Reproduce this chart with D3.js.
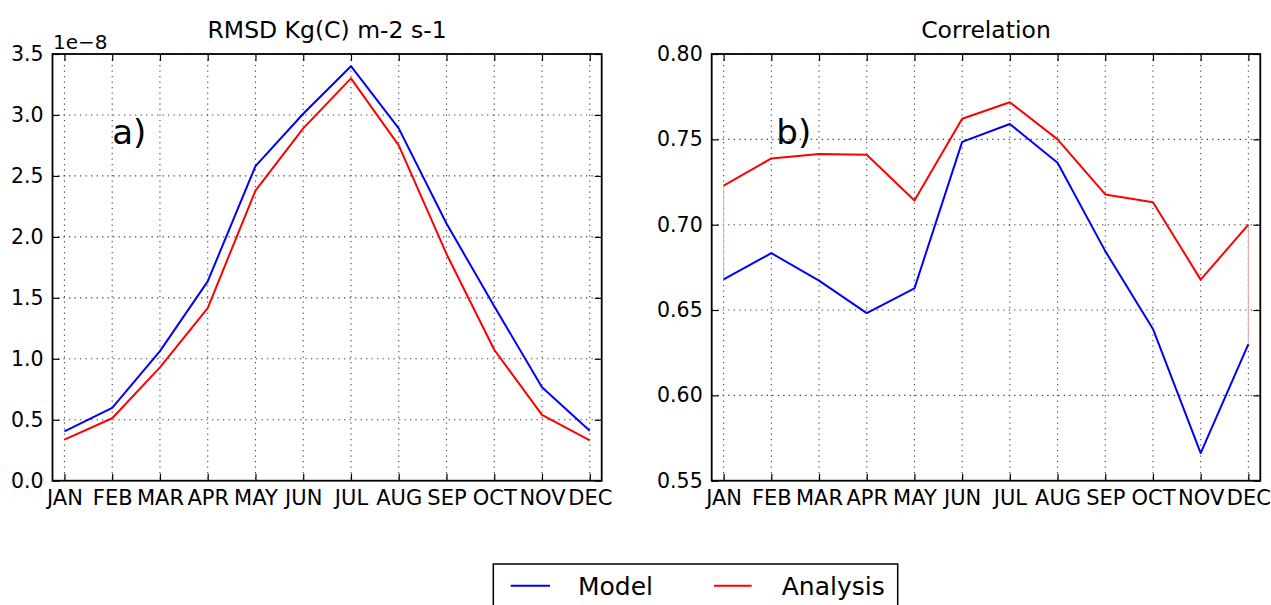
<!DOCTYPE html>
<html>
<head>
<meta charset="utf-8">
<script src="https://cdn.jsdelivr.net/npm/d3@7/dist/d3.min.js"></script>
<style>
  html, body { margin: 0; padding: 0; background: #fff; }
  svg { display: block; font-family: "DejaVu Sans", sans-serif; }
  .tick text { font-family: "DejaVu Sans", sans-serif; fill: #000; }
</style>
</head>
<body>
<svg id="chart" width="1271" height="605"></svg>
<script>
// ---- data ----
const months = ["JAN","FEB","MAR","APR","MAY","JUN","JUL","AUG","SEP","OCT","NOV","DEC"];
// RMSD, in units of 1e-8 Kg(C) m-2 s-1
const rmsdModel    = [0.405, 0.597, 1.063, 1.635, 2.58, 3.01, 3.40, 2.89, 2.11, 1.43, 0.767, 0.41];
const rmsdAnalysis = [0.337, 0.512, 0.93, 1.416, 2.38, 2.89, 3.30, 2.75, 1.86, 1.074, 0.54, 0.33];
// Correlation
const corrModel    = [0.668, 0.6833, 0.6672, 0.6482, 0.6627, 0.7485, 0.759, 0.7363, 0.6845, 0.6389, 0.5662, 0.630];
const corrAnalysis = [0.7229, 0.7388, 0.7414, 0.741, 0.7142, 0.7621, 0.7717, 0.750, 0.7177, 0.7132, 0.6678, 0.700];
const rmsdTicks = [0.0, 0.5, 1.0, 1.5, 2.0, 2.5, 3.0, 3.5];
const corrTicks = [0.55, 0.60, 0.65, 0.70, 0.75, 0.80];
const seriesNames = ["Model", "Analysis"];
const seriesColors = ["#0000ff", "#ff0000"];

const svg = d3.select("#chart");
svg.append("rect").attr("width", 1271).attr("height", 605).attr("fill", "#fff");

function panel(opts) {
  const x = d3.scaleLinear().domain([-0.25, 11.25]).range([opts.left, opts.right]);
  const y = d3.scaleLinear().domain(opts.yDomain).range([opts.bottom, opts.top]);
  const g = svg.append("g");

  // grid
  const grid = g.append("g").attr("stroke", "#444").attr("stroke-width", 1.1)
    .attr("stroke-dasharray", "1.3,4.2").attr("fill", "none");
  months.forEach((m, i) => {
    grid.append("line").attr("x1", x(i)).attr("x2", x(i)).attr("y1", opts.top).attr("y2", opts.bottom);
  });
  opts.ticks.forEach(t => {
    grid.append("line").attr("x1", opts.left).attr("x2", opts.right).attr("y1", y(t)).attr("y2", y(t));
  });

  // axes (inward ticks on all sides)
  const xb = d3.axisBottom(x).tickValues(d3.range(12)).tickFormat(i => months[i]).tickSize(-7).tickPadding(8);
  const xt = d3.axisTop(x).tickValues(d3.range(12)).tickFormat("").tickSize(-7);
  const yl = d3.axisLeft(y).tickValues(opts.ticks).tickFormat(opts.fmt).tickSize(-7).tickPadding(9);
  const yr = d3.axisRight(y).tickValues(opts.ticks).tickFormat("").tickSize(-7);

  const ax1 = g.append("g").attr("transform", `translate(0,${opts.bottom})`).call(xb);
  ax1.selectAll("text").attr("font-size", 21).attr("dy", "0.8em");
  g.append("g").attr("transform", `translate(0,${opts.top})`).call(xt);
  const ay = g.append("g").attr("transform", `translate(${opts.left},0)`).call(yl);
  ay.selectAll("text").attr("font-size", 20.5);
  g.append("g").attr("transform", `translate(${opts.right},0)`).call(yr);
  g.selectAll(".domain").remove();
  g.selectAll(".tick line").attr("stroke", "#000").attr("stroke-width", 1.2);

  // faint connectors at the ends (visible in the original)
  if (opts.connectEnds) {
    [0, 11].forEach(i => {
      g.append("line").attr("x1", x(i)).attr("x2", x(i))
        .attr("y1", y(opts.series[0][i])).attr("y2", y(opts.series[1][i]))
        .attr("stroke", "#f2a6a6").attr("stroke-width", 1);
    });
  }

  // series lines
  const line = d3.line().x((d, i) => x(i)).y(d => y(d));
  opts.series.forEach((s, k) => {
    g.append("path").datum(s).attr("d", line).attr("fill", "none")
      .attr("stroke", seriesColors[k]).attr("stroke-width", 2).attr("stroke-linejoin", "round");
  });

  // frame
  g.append("rect").attr("x", opts.left).attr("y", opts.top)
    .attr("width", opts.right - opts.left).attr("height", opts.bottom - opts.top)
    .attr("fill", "none").attr("stroke", "#000").attr("stroke-width", 1.8);

  // title
  g.append("text").attr("x", (opts.left + opts.right) / 2).attr("y", 38)
    .attr("text-anchor", "middle").attr("font-size", 23.5).text(opts.title);

  // panel letter
  g.append("text").attr("x", x(1) + opts.letterDx).attr("y", 144)
    .attr("font-size", 34).text(opts.letter);
  return g;
}

const gA = panel({
  left: 52.5, right: 601.7, top: 54, bottom: 480.7,
  yDomain: [0, 3.5], ticks: rmsdTicks, fmt: d3.format(".1f"),
  series: [rmsdModel, rmsdAnalysis], title: "RMSD Kg(C) m-2 s-1", letter: "a)", letterDx: 0,
  connectEnds: false
});
gA.append("text").attr("x", 53).attr("y", 49).attr("font-size", 20).text("1e\u22128");

panel({
  left: 711.7, right: 1260.3, top: 54, bottom: 480.7,
  yDomain: [0.55, 0.80], ticks: corrTicks, fmt: d3.format(".2f"),
  series: [corrModel, corrAnalysis], title: "Correlation", letter: "b)", letterDx: 5,
  connectEnds: true
});

// legend
const lg = svg.append("g");
lg.append("rect").attr("x", 493.3).attr("y", 564).attr("width", 404.4).attr("height", 60)
  .attr("fill", "#fff").attr("stroke", "#000").attr("stroke-width", 1.5);
const legendX = [[510.7, 550, 578], [714, 751.7, 781.7]];
seriesNames.forEach((n, k) => {
  lg.append("line").attr("x1", legendX[k][0]).attr("x2", legendX[k][1])
    .attr("y1", 585.7).attr("y2", 585.7).attr("stroke", seriesColors[k]).attr("stroke-width", 2);
  lg.append("text").attr("x", legendX[k][2]).attr("y", 594.5).attr("font-size", 25).text(n);
});
</script>
</body>
</html>
